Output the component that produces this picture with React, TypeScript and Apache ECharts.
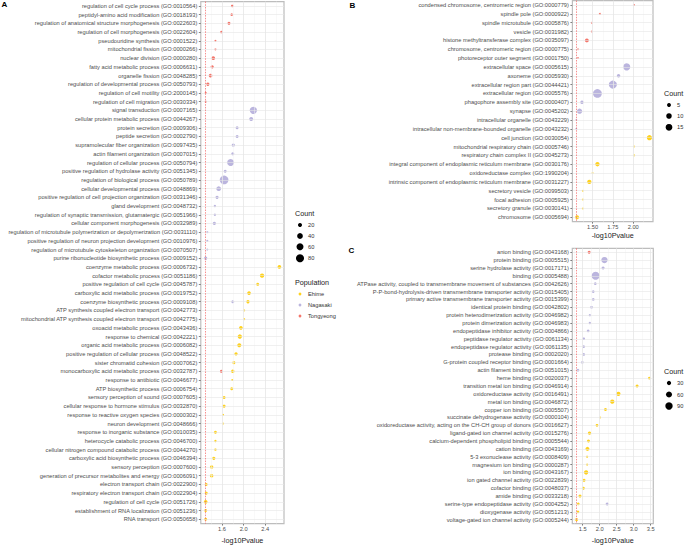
import React, { useEffect, useRef } from 'react';
import * as echarts from 'echarts';

const FONT = '"Liberation Sans", Arial, Helvetica, sans-serif';
const COLORS: Record<string, string> = { Ehime: '#FFD21F', Nagasaki: '#BBB5DE', Tongyeong: '#F4766B' };
const POPS = ['Ehime', 'Nagasaki', 'Tongyeong'];

// ---------------- Panel A (biological process) ----------------
const A_TONGYEONG_TERMS = [
  'regulation of cell cycle process (GO:0010564)',
  'peptidyl-amino acid modification (GO:0018193)',
  'regulation of anatomical structure morphogenesis (GO:0022603)',
  'regulation of cell morphogenesis (GO:0022604)',
  'pseudouridine synthesis (GO:0001522)',
  'mitochondrial fission (GO:0000266)',
  'nuclear division (GO:0000280)',
  'fatty acid metabolic process (GO:0006631)',
  'organelle fission (GO:0048285)',
  'regulation of developmental process (GO:0050793)',
  'regulation of cell motility (GO:2000145)',
  'regulation of cell migration (GO:0030334)',
];
const A_TONGYEONG_LOGP = [1.79, 1.78, 1.73, 1.59, 1.48, 1.48, 1.44, 1.42, 1.39, 1.34, 1.30, 1.30];
const A_TONGYEONG_COUNT = [8, 8, 11, 8, 5, 5, 17, 13, 17, 13, 5, 5];

const A_NAGASAKI_TERMS = [
  'signal transduction (GO:0007165)',
  'cellular protein metabolic process (GO:0044267)',
  'protein secretion (GO:0009306)',
  'peptide secretion (GO:0002790)',
  'supramolecular fiber organization (GO:0097435)',
  'actin filament organization (GO:0007015)',
  'regulation of cellular process (GO:0050794)',
  'positive regulation of hydrolase activity (GO:0051345)',
  'regulation of biological process (GO:0050789)',
  'cellular developmental process (GO:0048869)',
  'positive regulation of cell projection organization (GO:0031346)',
  'gland development (GO:0048732)',
  'regulation of synaptic transmission, glutamatergic (GO:0051966)',
  'cellular component morphogenesis (GO:0032989)',
  'regulation of microtubule polymerization or depolymerization (GO:0031110)',
  'positive regulation of neuron projection development (GO:0010976)',
  'regulation of microtubule cytoskeleton organization (GO:0070507)',
  'purine ribonucleotide biosynthetic process (GO:0009152)',
];
const A_NAGASAKI_LOGP = [2.18, 2.14, 1.88, 1.88, 1.81, 1.80, 1.76, 1.66, 1.64, 1.54, 1.51, 1.47, 1.47, 1.46, 1.33, 1.33, 1.33, 1.30];
const A_NAGASAKI_COUNT = [66, 20, 11, 11, 13, 11, 60, 11, 93, 27, 13, 7, 7, 13, 5, 5, 5, 13];

const A_EHIME_TERMS = [
  'coenzyme metabolic process (GO:0006732)',
  'cofactor metabolic process (GO:0051186)',
  'positive regulation of cell cycle (GO:0045787)',
  'carboxylic acid metabolic process (GO:0019752)',
  'coenzyme biosynthetic process (GO:0009108)',
  'ATP synthesis coupled electron transport (GO:0042773)',
  'mitochondrial ATP synthesis coupled electron transport (GO:0042775)',
  'oxoacid metabolic process (GO:0043436)',
  'response to chemical (GO:0042221)',
  'organic acid metabolic process (GO:0006082)',
  'positive regulation of cellular process (GO:0048522)',
  'sister chromatid cohesion (GO:0007062)',
  'monocarboxylic acid metabolic process (GO:0032787)',
  'response to antibiotic (GO:0046677)',
  'ATP biosynthetic process (GO:0006754)',
  'sensory perception of sound (GO:0007605)',
  'cellular response to hormone stimulus (GO:0032870)',
  'response to reactive oxygen species (GO:0000302)',
  'neuron development (GO:0048666)',
  'response to inorganic substance (GO:0010035)',
  'heterocycle catabolic process (GO:0046700)',
  'cellular nitrogen compound catabolic process (GO:0044270)',
  'carboxylic acid biosynthetic process (GO:0046394)',
  'sensory perception (GO:0007600)',
  'generation of precursor metabolites and energy (GO:0006091)',
  'electron transport chain (GO:0022900)',
  'respiratory electron transport chain (GO:0022904)',
  'regulation of cell cycle (GO:0051726)',
  'establishment of RNA localization (GO:0051236)',
  'RNA transport (GO:0050658)',
];
const A_EHIME_LOGP = [2.66, 2.34, 2.26, 2.10, 2.08, 2.01, 2.01, 1.95, 1.93, 1.92, 1.86, 1.82, 1.80, 1.79, 1.78, 1.64, 1.64, 1.62, 1.62, 1.48, 1.48, 1.48, 1.45, 1.41, 1.41, 1.31, 1.31, 1.30, 1.30, 1.30];
const A_EHIME_COUNT = [17, 23, 11, 17, 13, 5, 5, 17, 23, 20, 13, 11, 15, 5, 11, 11, 11, 5, 5, 11, 7, 7, 13, 15, 15, 11, 11, 17, 11, 11];

const A_EXTRA_POP = ['Nagasaki', 'Tongyeong'];
const A_EXTRA_TERMS = ['coenzyme biosynthetic process (GO:0009108)', 'monocarboxylic acid metabolic process (GO:0032787)'];
const A_EXTRA_LOGP = [1.80, 1.59];
const A_EXTRA_COUNT = [11, 11];

// ---------------- Panel B (cellular component) ----------------
const B_TONGYEONG_TERMS = [
  'condensed chromosome, centromeric region (GO:0000779)',
  'spindle pole (GO:0000922)',
  'spindle microtubule (GO:0005876)',
  'vesicle (GO:0031982)',
  'histone methyltransferase complex (GO:0035097)',
  'chromosome, centromeric region (GO:0000775)',
  'photoreceptor outer segment (GO:0001750)',
];
const B_TONGYEONG_LOGP = [2.01, 1.59, 1.49, 1.49, 1.43, 1.32, 1.32];
const B_TONGYEONG_COUNT = [1, 1, 1, 1, 5, 1, 1];

const B_NAGASAKI_TERMS = [
  'extracellular space (GO:0005615)',
  'axoneme (GO:0005930)',
  'extracellular region part (GO:0044421)',
  'extracellular region (GO:0005576)',
  'phagophore assembly site (GO:0000407)',
  'synapse (GO:0045202)',
  'intracellular organelle (GO:0043229)',
  'intracellular non-membrane-bounded organelle (GO:0043232)',
];
const B_NAGASAKI_LOGP = [1.92, 1.82, 1.75, 1.56, 1.37, 1.34, 1.30, 1.30];
const B_NAGASAKI_COUNT = [17, 4, 21, 25, 4, 9, 1, 1];

const B_EHIME_TERMS = [
  'cell junction (GO:0030054)',
  'mitochondrial respiratory chain (GO:0005746)',
  'respiratory chain complex II (GO:0045273)',
  'integral component of endoplasmic reticulum membrane (GO:0030176)',
  'oxidoreductase complex (GO:1990204)',
  'intrinsic component of endoplasmic reticulum membrane (GO:0031227)',
  'secretory vesicle (GO:0099503)',
  'focal adhesion (GO:0005925)',
  'secretory granule (GO:0030141)',
  'chromosome (GO:0005694)',
];
const B_EHIME_LOGP = [2.20, 2.01, 2.01, 1.56, 1.50, 1.46, 1.38, 1.38, 1.38, 1.31];
const B_EHIME_COUNT = [9, 1, 1, 6, 1, 6, 1, 1, 1, 5];

// ---------------- Panel C (molecular function) ----------------
const C_TONGYEONG_TERMS = ['anion binding (GO:0043168)'];
const C_TONGYEONG_LOGP = [1.69];
const C_TONGYEONG_COUNT = [15];

const C_NAGASAKI_TERMS = [
  'protein binding (GO:0005515)',
  'serine hydrolase activity (GO:0017171)',
  'binding (GO:0005488)',
  'ATPase activity, coupled to transmembrane movement of substances (GO:0042626)',
  'P-P-bond-hydrolysis-driven transmembrane transporter activity (GO:0015405)',
  'primary active transmembrane transporter activity (GO:0015399)',
  'identical protein binding (GO:0042802)',
  'protein heterodimerization activity (GO:0046982)',
  'protein dimerization activity (GO:0046983)',
  'endopeptidase inhibitor activity (GO:0004866)',
  'peptidase regulator activity (GO:0061134)',
  'endopeptidase regulator activity (GO:0061135)',
  'protease binding (GO:0002020)',
  'G-protein coupled receptor binding (GO:0001664)',
  'actin filament binding (GO:0051015)',
];
const C_NAGASAKI_LOGP = [2.14, 2.10, 1.88, 1.87, 1.81, 1.81, 1.76, 1.71, 1.71, 1.66, 1.53, 1.53, 1.53, 1.49, 1.36];
const C_NAGASAKI_COUNT = [66, 15, 105, 12, 12, 12, 12, 9, 9, 12, 12, 12, 12, 12, 12];

const C_EHIME_TERMS = [
  'heme binding (GO:0020037)',
  'transition metal ion binding (GO:0046914)',
  'oxidoreductase activity (GO:0016491)',
  'metal ion binding (GO:0046872)',
  'copper ion binding (GO:0005507)',
  'succinate dehydrogenase activity (GO:0000104)',
  'oxidoreductase activity, acting on the CH-CH group of donors (GO:0016627)',
  'ligand-gated ion channel activity (GO:0015276)',
  'calcium-dependent phospholipid binding (GO:0005544)',
  'cation binding (GO:0043169)',
  '5-3 exonuclease activity (GO:0008409)',
  'magnesium ion binding (GO:0000287)',
  'ion binding (GO:0043167)',
  'ion gated channel activity (GO:0022839)',
  'cofactor binding (GO:0048037)',
  'amide binding (GO:0033218)',
  'serine-type endopeptidase activity (GO:0004252)',
  'dioxygenase activity (GO:0051213)',
  'voltage-gated ion channel activity (GO:0005244)',
];
const C_EHIME_LOGP = [3.46, 3.10, 2.55, 2.37, 2.17, 2.01, 1.92, 1.70, 1.67, 1.64, 1.63, 1.63, 1.60, 1.54, 1.52, 1.42, 1.37, 1.36, 1.32];
const C_EHIME_COUNT = [12, 15, 30, 30, 15, 5, 12, 18, 15, 26, 7, 7, 30, 15, 15, 15, 12, 12, 15];

const C_EXTRA_POP = ['Nagasaki'];
const C_EXTRA_TERMS = ['serine-type endopeptidase activity (GO:0004252)'];
const C_EXTRA_LOGP = [2.22];
const C_EXTRA_COUNT = [15];

// ---------------- axes / legends ----------------
const A_X_TICKS = [1.6, 2.0, 2.4];
const B_X_TICKS = [1.5, 1.75, 2.0];
const C_X_TICKS = [1.5, 2.0, 2.5, 3.0, 3.5];
const A_COUNT_BREAKS = [20, 40, 60, 80];
const B_COUNT_BREAKS = [5, 10, 15];
const C_COUNT_BREAKS = [30, 60, 90];
const THRESHOLD = 1.301; // -log10(0.05)

type Group = { pop: string; terms: string[]; logp: number[]; count: number[] };

const PANELS = [
  {
    box: { left: 200.8, top: 1.6, width: 83.2, height: 527.8 },
    xMin: 1.21, xMax: 2.745, ticks: A_X_TICKS, digits: 1, k: 0.9,
    groups: [
      { pop: 'Tongyeong', terms: A_TONGYEONG_TERMS, logp: A_TONGYEONG_LOGP, count: A_TONGYEONG_COUNT },
      { pop: 'Nagasaki', terms: A_NAGASAKI_TERMS, logp: A_NAGASAKI_LOGP, count: A_NAGASAKI_COUNT },
      { pop: 'Ehime', terms: A_EHIME_TERMS, logp: A_EHIME_LOGP, count: A_EHIME_COUNT },
    ] as Group[],
    extra: { pops: A_EXTRA_POP, terms: A_EXTRA_TERMS, logp: A_EXTRA_LOGP, count: A_EXTRA_COUNT },
  },
  {
    box: { left: 572.4, top: 0.6, width: 80.6, height: 221.1 },
    xMin: 1.252, xMax: 2.244, ticks: B_X_TICKS, digits: 2, k: 1.75,
    groups: [
      { pop: 'Tongyeong', terms: B_TONGYEONG_TERMS, logp: B_TONGYEONG_LOGP, count: B_TONGYEONG_COUNT },
      { pop: 'Nagasaki', terms: B_NAGASAKI_TERMS, logp: B_NAGASAKI_LOGP, count: B_NAGASAKI_COUNT },
      { pop: 'Ehime', terms: B_EHIME_TERMS, logp: B_EHIME_LOGP, count: B_EHIME_COUNT },
    ] as Group[],
    extra: { pops: [] as string[], terms: [] as string[], logp: [] as number[], count: [] as number[] },
  },
  {
    box: { left: 572.3, top: 248.3, width: 81, height: 282.5 },
    xMin: 1.194, xMax: 3.577, ticks: C_X_TICKS, digits: 1, k: 0.78,
    groups: [
      { pop: 'Tongyeong', terms: C_TONGYEONG_TERMS, logp: C_TONGYEONG_LOGP, count: C_TONGYEONG_COUNT },
      { pop: 'Nagasaki', terms: C_NAGASAKI_TERMS, logp: C_NAGASAKI_LOGP, count: C_NAGASAKI_COUNT },
      { pop: 'Ehime', terms: C_EHIME_TERMS, logp: C_EHIME_LOGP, count: C_EHIME_COUNT },
    ] as Group[],
    extra: { pops: C_EXTRA_POP, terms: C_EXTRA_TERMS, logp: C_EXTRA_LOGP, count: C_EXTRA_COUNT },
  },
];

function minorTicks(ticks: number[], lo: number, hi: number) {
  const step = ticks[1] - ticks[0];
  const out: number[] = [];
  for (let v = ticks[0] - step / 2; v > lo; v -= step) out.push(v);
  for (let v = ticks[0] + step / 2; v < hi; v += step) out.push(v);
  return out;
}

function textEl(text: string, x: number, y: number, size: number, opts: any = {}) {
  return {
    type: 'text',
    silent: true,
    style: {
      text, x, y,
      font: `${opts.bold ? 'bold ' : ''}${size}px ${FONT}`,
      fill: opts.fill || '#1a1a1a',
      align: opts.align || 'left', textAlign: opts.align || 'left',
      verticalAlign: 'middle', textVerticalAlign: 'middle',
    },
  };
}

function buildOption() {
  const grid: any[] = [];
  const xAxis: any[] = [];
  const yAxis: any[] = [];
  const series: any[] = [];

  PANELS.forEach((p, i) => {
    const terms = ([] as string[]).concat(...p.groups.map((g) => g.terms));
    grid.push({
      left: p.box.left, top: p.box.top, width: p.box.width, height: p.box.height,
      show: true, borderColor: '#BDBDBD', borderWidth: 1.2, backgroundColor: '#FFFFFF',
    });
    xAxis.push({
      type: 'value', gridIndex: i, min: p.xMin, max: p.xMax,
      name: '-log10Pvalue', nameLocation: 'middle', nameGap: 10,
      nameTextStyle: { fontSize: 7.2, color: '#1a1a1a', fontFamily: FONT },
      axisLine: { show: false },
      axisTick: { show: true, length: 2, customValues: p.ticks, lineStyle: { color: '#333333', width: 0.6 } },
      axisLabel: {
        customValues: p.ticks, fontSize: 5.7, color: '#4D4D4D', margin: 2.5, fontFamily: FONT,
        formatter: (v: number) => Number(v).toFixed(p.digits),
      },
      splitLine: { show: false },
    });
    yAxis.push({
      type: 'category', gridIndex: i, data: terms, inverse: true,
      axisLine: { show: false },
      axisTick: { show: true, alignWithLabel: true, interval: 0, length: 2, lineStyle: { color: '#333333', width: 0.6 } },
      axisLabel: { interval: 0, fontSize: 5.7, color: '#4D4D4D', margin: 3.5, fontFamily: FONT, hideOverlap: false },
      splitLine: { show: false },
    });

    const minors = minorTicks(p.ticks, p.xMin, p.xMax);
    const lines: any[] = [];
    minors.forEach((v) => lines.push({ xAxis: v, lineStyle: { color: '#F3F3F3', width: 0.5, type: 'solid' } }));
    p.ticks.forEach((v) => lines.push({ xAxis: v, lineStyle: { color: '#E6E6E6', width: 0.8, type: 'solid' } }));
    terms.forEach((_t, j) => lines.push({ yAxis: j, lineStyle: { color: '#E6E6E6', width: 0.6, type: 'solid' } }));
    lines.push({ xAxis: THRESHOLD, lineStyle: { color: '#F06060', width: 0.7, type: [1.5, 1.2] } });
    series.push({
      type: 'scatter', name: 'grid', xAxisIndex: i, yAxisIndex: i, data: [], silent: true, z: 1,
      markLine: { silent: true, symbol: 'none', label: { show: false }, animation: false, data: lines },
    });

    const k = p.k;
    const byPop: Record<string, any[]> = { Ehime: [], Nagasaki: [], Tongyeong: [] };
    p.groups.forEach((g) => {
      g.terms.forEach((t, j) => byPop[g.pop].push([g.logp[j], terms.indexOf(t), g.count[j]]));
    });
    p.extra.terms.forEach((t, j) => byPop[p.extra.pops[j]].push([p.extra.logp[j], terms.indexOf(t), p.extra.count[j]]));
    POPS.forEach((pop) => {
      series.push({
        type: 'scatter', name: pop, xAxisIndex: i, yAxisIndex: i, z: 3,
        data: byPop[pop],
        symbolSize: (v: number[]) => k * Math.sqrt(v[2]),
        itemStyle: { color: COLORS[pop], opacity: 1 },
        encode: { x: 0, y: 1 },
      });
    });
  });

  // legends & panel letters
  const graphic: any[] = [];
  graphic.push(textEl('A', 1.5, 4.5, 8, { bold: true, fill: '#000' }));
  graphic.push(textEl('B', 349.5, 5, 8, { bold: true, fill: '#000' }));
  graphic.push(textEl('C', 348.5, 250.5, 8, { bold: true, fill: '#000' }));

  const countLegend = (x: number, yTitle: number, ys: number[], breaks: number[], k: number) => {
    graphic.push(textEl('Count', x, yTitle, 7.2));
    breaks.forEach((b, j) => {
      graphic.push({ type: 'circle', silent: true, shape: { cx: x + 5, cy: ys[j], r: (k * Math.sqrt(b)) / 2 }, style: { fill: '#000' } });
      graphic.push(textEl(String(b), x + 13, ys[j], 5.7, { fill: '#333333' }));
    });
  };
  countLegend(295, 213, [225, 236, 246.7, 258.3], A_COUNT_BREAKS, PANELS[0].k);
  countLegend(664, 93, [105, 116, 127.3], B_COUNT_BREAKS, PANELS[1].k);
  countLegend(664, 371, [383, 394.5, 406], C_COUNT_BREAKS, PANELS[2].k);

  graphic.push(textEl('Population', 295, 282, 7.2));
  POPS.forEach((pop, j) => {
    const y = 294 + j * 11;
    graphic.push({ type: 'circle', silent: true, shape: { cx: 300, cy: y, r: 1.4 }, style: { fill: COLORS[pop] } });
    graphic.push(textEl(pop, 308, y, 5.7, { fill: '#333333' }));
  });

  return {
    animation: false,
    backgroundColor: '#FFFFFF',
    textStyle: { fontFamily: FONT },
    grid, xAxis, yAxis, series, graphic,
  };
}

export default function App() {
  const ref = useRef<HTMLDivElement>(null);
  useEffect(() => {
    if (!ref.current) return;
    const chart = echarts.init(ref.current, undefined, { renderer: 'svg' });
    chart.setOption(buildOption() as any);
    return () => chart.dispose();
  }, []);
  return (
    <div
      ref={ref}
      style={{ position: 'fixed', left: 0, top: 0, width: 685, height: 549, background: '#FFFFFF' }}
    />
  );
}
